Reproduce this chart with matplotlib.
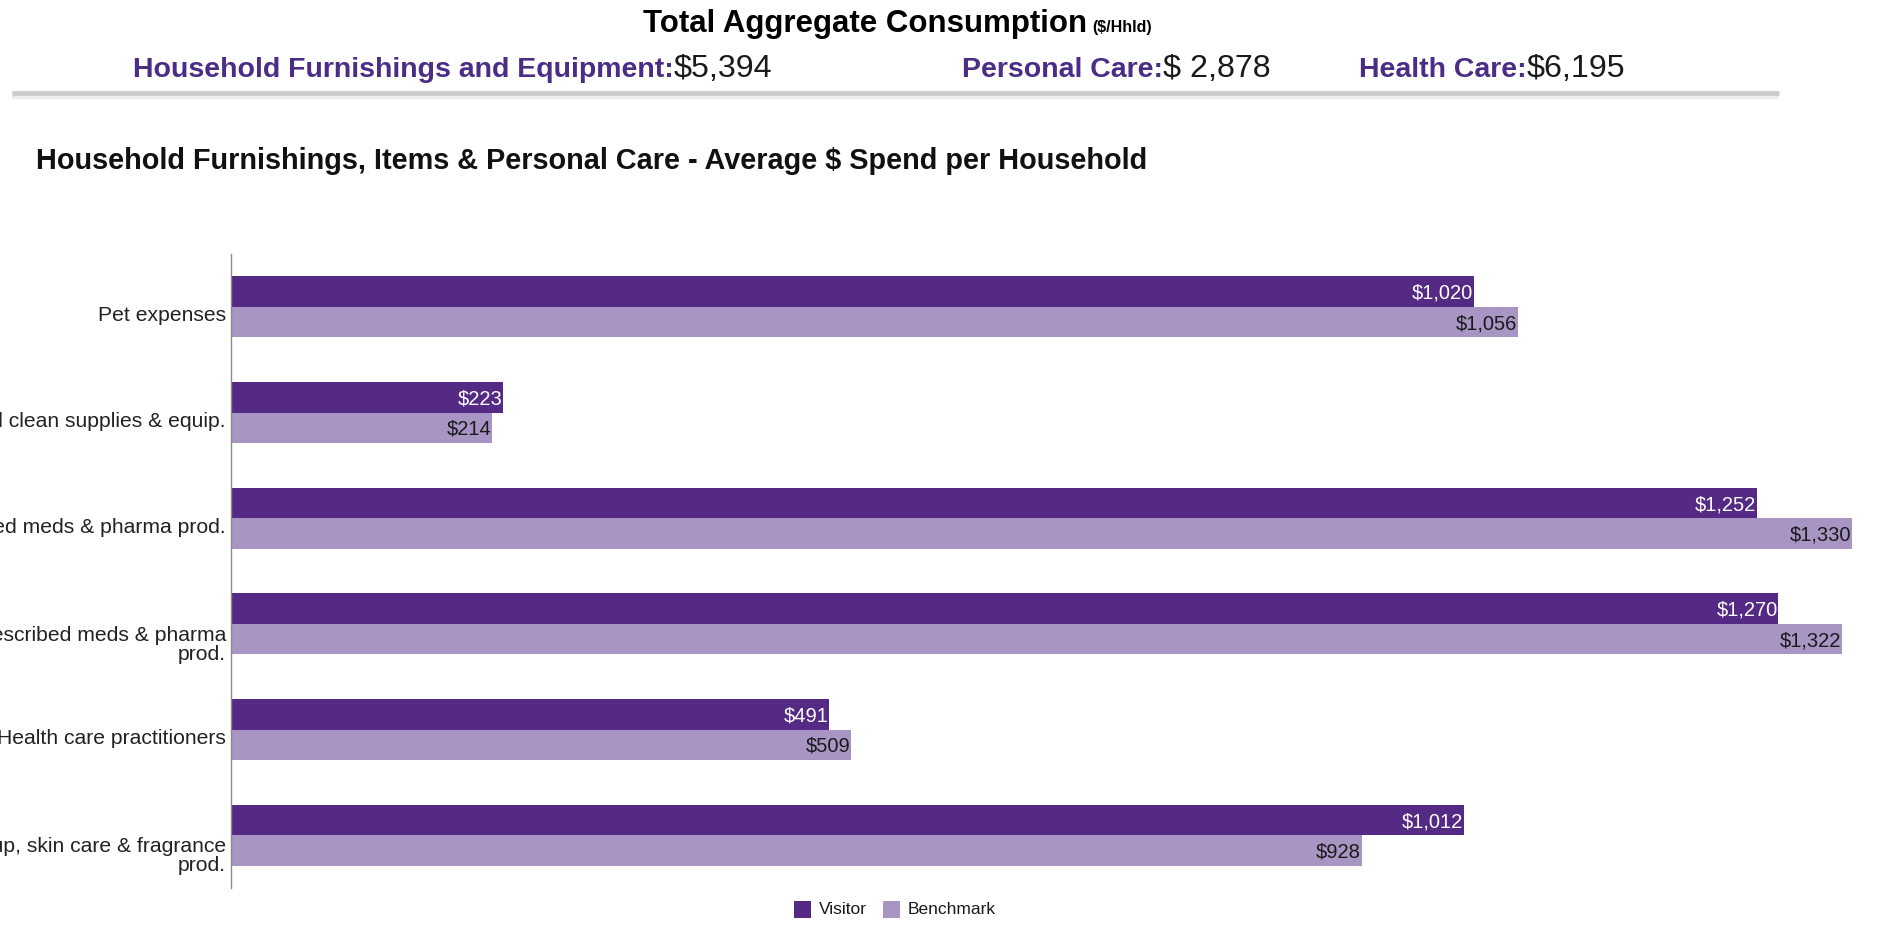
import matplotlib
matplotlib.use("Agg")
import matplotlib.pyplot as plt
import matplotlib.transforms as mtransforms
from matplotlib.lines import Line2D
from matplotlib.patches import Rectangle

# ---- data -------------------------------------------------------------
categories = [
    "Pet expenses",
    "Household clean supplies & equip.",
    "Prescribed meds & pharma prod.",
    "Non-prescribed meds & pharma\nprod.",
    "Health care practitioners",
    "Makeup, skin care & fragrance\nprod.",
]
visitor = [1020, 223, 1252, 1270, 491, 1012]
benchmark = [1056, 214, 1330, 1322, 509, 928]
series_names = ["Visitor", "Benchmark"]

header_title = "Total Aggregate Consumption"
header_unit = "($/Hhld)"
totals_labels = ["Household Furnishings and Equipment:", "Personal Care:", "Health Care:"]
totals_values = ["$5,394", "$ 2,878", "$6,195"]
chart_title = "Household Furnishings, Items & Personal Care - Average $ Spend per Household"

# ---- style ------------------------------------------------------------
W, H, DPI = 1878, 937, 100
PURPLE = "#542a84"
LILAC = "#a995c3"
HEAD_PURPLE = "#4b2c86"
FONT = "Liberation Sans"

plt.rcParams["font.family"] = [FONT, "DejaVu Sans"]

fig = plt.figure(figsize=(W / DPI, H / DPI), dpi=DPI)
fig.patch.set_facecolor("white")


def fx(px):
    return px / W


def fy(py):
    return 1 - py / H


renderer = fig.canvas.get_renderer()

# ---- header block -----------------------------------------------------
t1 = fig.text(fx(643), fy(32), header_title, fontsize=22.5, fontweight="bold",
              ha="left", va="baseline", color="black")
bb = t1.get_window_extent(renderer)
fig.text(fx(bb.x1 + 5), fy(32), header_unit, fontsize=11.5, fontweight="bold",
         ha="left", va="baseline", color="black")

totals_x = [133, 962, 1359]
for x0, lab, val in zip(totals_x, totals_labels, totals_values):
    t = fig.text(fx(x0), fy(77), lab, fontsize=20.5, fontweight="bold",
                 ha="left", va="baseline", color=HEAD_PURPLE)
    b = t.get_window_extent(renderer)
    fig.text(fx(b.x1), fy(77), val, fontsize=23.2, ha="left", va="baseline",
             color="#1a1a1a")

# separator rule with a soft shadow
fig.add_artist(Line2D([fx(12), fx(1779)], [fy(96), fy(96)], color="#ededed",
                      lw=6, solid_capstyle="butt"))
fig.add_artist(Line2D([fx(12), fx(1779)], [fy(94), fy(94)], color="#cccccc",
                      lw=3.4, solid_capstyle="butt"))

fig.text(fx(36), fy(169), chart_title, fontsize=20.8, fontweight="bold",
         ha="left", va="baseline", color="#111111")

# ---- bar chart --------------------------------------------------------
ax_left, ax_right, ax_top, ax_bottom = 231, 1878, 255, 889
ax = fig.add_axes([fx(ax_left), fy(ax_bottom), fx(ax_right - ax_left),
                   (ax_bottom - ax_top) / H])
px_per_dollar = 1.2185
ax.set_xlim(0, (ax_right - ax_left) / px_per_dollar)
n = len(categories)
ax.set_ylim(n - 0.5, -0.5)

bar_h = 0.289
ys = list(range(n))
ax.barh([y - bar_h / 2 for y in ys], visitor, height=bar_h, color=PURPLE,
        edgecolor="none", label=series_names[0])
ax.barh([y + bar_h / 2 for y in ys], benchmark, height=bar_h, color=LILAC,
        edgecolor="none", label=series_names[1])

for y, v in zip(ys, visitor):
    ax.annotate(f"${v:,}", xy=(v, y - bar_h / 2), xytext=(-0.5, -0.5),
                textcoords="offset points", ha="right", va="center",
                fontsize=14.5, color="white")
for y, v in zip(ys, benchmark):
    ax.annotate(f"${v:,}", xy=(v, y + bar_h / 2), xytext=(-0.5, -0.5),
                textcoords="offset points", ha="right", va="center",
                fontsize=14.5, color="#1a1a1a")

# category labels, right-aligned against the axis line
for y, lab in zip(ys, categories):
    shift = -20 if "\n" in lab else -8
    off = mtransforms.ScaledTranslation(-5 / DPI, shift / DPI, fig.dpi_scale_trans)
    ax.text(0, y, lab, transform=ax.transData + off, ha="right", va="center",
            fontsize=15.2, color="#222222", linespacing=1.0, clip_on=False)

for side in ("top", "right", "bottom"):
    ax.spines[side].set_visible(False)
ax.spines["left"].set_color("#8a8a8a")
ax.spines["left"].set_linewidth(1.0)
ax.set_xticks([])
ax.set_yticks([])
ax.patch.set_alpha(0)

# ---- legend -----------------------------------------------------------
leg_y = 910
for x_sq, color, name in [(794, PURPLE, series_names[0]), (883, LILAC, series_names[1])]:
    fig.add_artist(Rectangle((fx(x_sq), fy(leg_y + 9)), 17 / W, 17 / H,
                             transform=fig.transFigure, color=color, lw=0))
    fig.text(fx(x_sq + 25), fy(leg_y), name, fontsize=12.5, ha="left",
             va="center", color="#1a1a1a")

fig.savefig("out.png", dpi=DPI, facecolor="white")
